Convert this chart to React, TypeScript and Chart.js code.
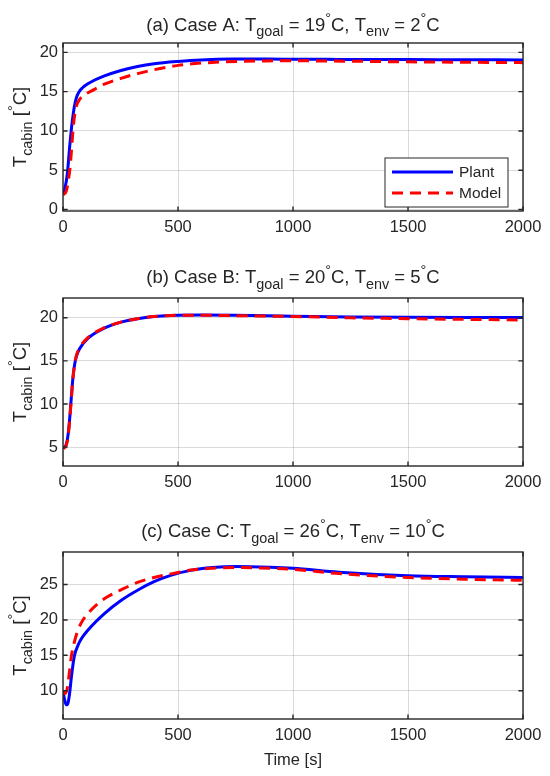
import React, { useEffect, useRef } from "react";
import { Chart, registerables } from "chart.js";

Chart.register(...registerables);

const FONT = '"Liberation Sans", Arial, Helvetica, sans-serif';
const TEXT_COLOR = "#262626";
const GRID_COLOR = "rgba(38,38,38,0.17)";

// ---------- data ----------
const X_TICKS = [0, 500, 1000, 1500, 2000];

// Case A
const A_T_PLANT = [0, 10, 19, 29, 39, 50, 58, 68, 85, 108, 180, 252, 324, 396, 500, 600, 735, 900, 1000, 1200, 1500, 1750, 2000];
const A_PLANT = [2.0, 2.9, 4.6, 8.0, 10.9, 13.2, 14.2, 14.9, 15.5, 16.0, 17.0, 17.7, 18.2, 18.55, 18.85, 19.05, 19.15, 19.15, 19.13, 19.11, 19.09, 19.07, 19.05];
const A_T_MODEL = [0, 14, 24, 32, 39, 46, 55, 72, 94, 137, 180, 252, 324, 396, 500, 562, 700, 880, 1000, 1250, 1500, 1750, 2000];
const A_MODEL = [1.85, 2.3, 3.8, 5.7, 8.4, 10.9, 12.8, 14.0, 14.6, 15.3, 15.95, 16.7, 17.3, 17.8, 18.35, 18.55, 18.8, 18.92, 18.93, 18.88, 18.8, 18.75, 18.7];
const A_Y_TICKS = [0, 5, 10, 15, 20];

// Case B
const B_T = [0, 14, 22, 29, 36, 43, 50, 58, 72, 108, 180, 252, 324, 396, 500, 600, 750, 1000, 1250, 1500, 1750, 2000];
const B_PLANT = [4.85, 5.3, 6.4, 8.3, 10.7, 13.0, 14.5, 15.5, 16.4, 17.6, 18.8, 19.5, 19.9, 20.15, 20.3, 20.32, 20.3, 20.18, 20.1, 20.06, 20.04, 20.03];
const B_MODEL = [4.8, 5.2, 6.2, 8.1, 10.5, 12.9, 14.5, 15.6, 16.5, 17.7, 18.85, 19.5, 19.9, 20.15, 20.3, 20.3, 20.25, 20.15, 20.0, 19.9, 19.82, 19.75];
const B_Y_TICKS = [5, 10, 15, 20];

// Case C
const C_T_PLANT = [0, 7, 14, 22, 29, 36, 43, 50, 65, 79, 108, 180, 252, 324, 396, 468, 555, 650, 750, 900, 1000, 1200, 1500, 1750, 2000];
const C_PLANT = [9.9, 8.7, 8.0, 8.3, 9.7, 11.8, 13.6, 15.0, 16.4, 17.3, 18.55, 20.9, 22.75, 24.2, 25.4, 26.3, 27.0, 27.4, 27.55, 27.45, 27.3, 26.75, 26.25, 26.1, 26.0];
const C_T_MODEL = [0, 7, 17, 29, 36, 48, 65, 86, 108, 151, 195, 252, 324, 396, 500, 555, 650, 750, 900, 1000, 1200, 1500, 1750, 2000];
const C_MODEL = [9.9, 9.6, 10.1, 12.9, 14.8, 16.7, 18.55, 19.95, 20.9, 22.3, 23.3, 24.25, 25.3, 26.0, 26.7, 27.05, 27.3, 27.4, 27.3, 27.15, 26.55, 26.0, 25.75, 25.6];
const C_Y_TICKS = [10, 15, 20, 25];

const SERIES_NAMES = ["Plant", "Model"];

type Seg = { t: string; k?: "sub" | "sup" };

const TITLE_A: Seg[] = [
  { t: "(a) Case A: T" }, { t: "goal", k: "sub" }, { t: " = 19" }, { t: "°", k: "sup" }, { t: "C, T" },
  { t: "env", k: "sub" }, { t: " = 2" }, { t: "°", k: "sup" }, { t: "C" },
];
const TITLE_B: Seg[] = [
  { t: "(b) Case B: T" }, { t: "goal", k: "sub" }, { t: " = 20" }, { t: "°", k: "sup" }, { t: "C, T" },
  { t: "env", k: "sub" }, { t: " = 5" }, { t: "°", k: "sup" }, { t: "C" },
];
const TITLE_C: Seg[] = [
  { t: "(c) Case C: T" }, { t: "goal", k: "sub" }, { t: " = 26" }, { t: "°", k: "sup" }, { t: "C, T" },
  { t: "env", k: "sub" }, { t: " = 10" }, { t: "°", k: "sup" }, { t: "C" },
];
const Y_LABEL: Seg[] = [{ t: "T" }, { t: "cabin", k: "sub" }, { t: " [" }, { t: "°", k: "sup" }, { t: "C]" }];
const X_LABEL = "Time [s]";

// ---------- rich text helpers ----------
const SUB_RATIO = 0.78;
function segSize(size: number, s: Seg) {
  return s.k ? size * SUB_RATIO : size;
}
function richWidth(ctx: CanvasRenderingContext2D, segs: Seg[], size: number) {
  let w = 0;
  for (const s of segs) {
    ctx.font = `${segSize(size, s)}px ${FONT}`;
    w += ctx.measureText(s.t).width;
  }
  return w;
}
function drawRich(ctx: CanvasRenderingContext2D, segs: Seg[], cx: number, baseline: number, size: number) {
  const w = richWidth(ctx, segs, size);
  let x = cx - w / 2;
  ctx.textAlign = "left";
  ctx.textBaseline = "alphabetic";
  ctx.fillStyle = TEXT_COLOR;
  for (const s of segs) {
    const fs = segSize(size, s);
    ctx.font = `${fs}px ${FONT}`;
    let dy = 0;
    if (s.k === "sub") dy = size * 0.3;
    if (s.k === "sup") dy = -size * 0.42;
    ctx.fillText(s.t, x, baseline + dy);
    x += ctx.measureText(s.t).width;
  }
}

type Panel = {
  title: Seg[];
  titleGap: number;
  yMin: number;
  yMax: number;
  yTicks: number[];
  plantT: number[];
  plant: number[];
  modelT: number[];
  model: number[];
  canvasTop: number;
  canvasH: number;
  padTop: number;
  xAxisH: number;
  legend: boolean;
  xLabel: boolean;
};

const PANELS: Panel[] = [
  {
    title: TITLE_A, titleGap: 12.5, yMin: -0.2, yMax: 21.2, yTicks: A_Y_TICKS,
    plantT: A_T_PLANT, plant: A_PLANT, modelT: A_T_MODEL, model: A_MODEL,
    canvasTop: 0, canvasH: 250, padTop: 43, xAxisH: 39, legend: true, xLabel: false,
  },
  {
    title: TITLE_B, titleGap: 15, yMin: 2.8, yMax: 22.3, yTicks: B_Y_TICKS,
    plantT: B_T, plant: B_PLANT, modelT: B_T, model: B_MODEL,
    canvasTop: 250, canvasH: 250, padTop: 48, xAxisH: 34, legend: false, xLabel: false,
  },
  {
    title: TITLE_C, titleGap: 15, yMin: 6.0, yMax: 29.6, yTicks: C_Y_TICKS,
    plantT: C_T_PLANT, plant: C_PLANT, modelT: C_T_MODEL, model: C_MODEL,
    canvasTop: 500, canvasH: 276, padTop: 52, xAxisH: 57, legend: false, xLabel: true,
  },
];

const BLUE = "#0000ff";
const RED = "#ff0000";
const LINE_W = 3;
const DASH = [11, 7];
const LABEL_SIZE = 18.5;
const TICK_SIZE = 16.5;
const LEGEND_SIZE = 15.5;

function PanelChart({ p }: { p: Panel }) {
  const ref = useRef<HTMLCanvasElement | null>(null);
  useEffect(() => {
    if (!ref.current) return;
    const framePlugin = {
      id: "matlabFrame",
      afterDraw(chart: any) {
        const ctx: CanvasRenderingContext2D = chart.ctx;
        const { left, right, top, bottom } = chart.chartArea;
        const xs = chart.scales.x;
        const ys = chart.scales.y;
        ctx.save();
        // box
        ctx.strokeStyle = TEXT_COLOR;
        ctx.lineWidth = 1.4;
        ctx.strokeRect(left, top, right - left, bottom - top);
        // inward ticks
        const tl = 4.6;
        ctx.beginPath();
        for (const v of X_TICKS) {
          const px = xs.getPixelForValue(v);
          ctx.moveTo(px, bottom);
          ctx.lineTo(px, bottom - tl);
          ctx.moveTo(px, top);
          ctx.lineTo(px, top + tl);
        }
        for (const v of p.yTicks) {
          const py = ys.getPixelForValue(v);
          ctx.moveTo(left, py);
          ctx.lineTo(left + tl, py);
          ctx.moveTo(right, py);
          ctx.lineTo(right - tl, py);
        }
        ctx.stroke();
        // title
        const cx = (left + right) / 2;
        drawRich(ctx, p.title, cx, top - p.titleGap, LABEL_SIZE);
        // y label
        ctx.save();
        ctx.translate(26, (top + bottom) / 2);
        ctx.rotate(-Math.PI / 2);
        drawRich(ctx, Y_LABEL, 0, 0, LABEL_SIZE);
        ctx.restore();
        // x label
        if (p.xLabel) {
          ctx.font = `${TICK_SIZE}px ${FONT}`;
          ctx.fillStyle = TEXT_COLOR;
          ctx.textAlign = "center";
          ctx.textBaseline = "alphabetic";
          ctx.fillText(X_LABEL, cx, bottom + 46);
        }
        // legend
        if (p.legend) {
          const lx = 385, ly = 158, lw = 123, lh = 49;
          ctx.fillStyle = "#ffffff";
          ctx.fillRect(lx, ly, lw, lh);
          ctx.strokeStyle = TEXT_COLOR;
          ctx.lineWidth = 1;
          ctx.strokeRect(lx, ly, lw, lh);
          const rows = [
            { name: SERIES_NAMES[0], color: BLUE, dash: [] as number[], y: ly + 14 },
            { name: SERIES_NAMES[1], color: RED, dash: DASH, y: ly + 35 },
          ];
          for (const r of rows) {
            ctx.beginPath();
            ctx.strokeStyle = r.color;
            ctx.lineWidth = LINE_W;
            ctx.setLineDash(r.dash);
            ctx.moveTo(lx + 7, r.y);
            ctx.lineTo(lx + 68, r.y);
            ctx.stroke();
            ctx.setLineDash([]);
            ctx.font = `${LEGEND_SIZE}px ${FONT}`;
            ctx.fillStyle = TEXT_COLOR;
            ctx.textAlign = "left";
            ctx.textBaseline = "middle";
            ctx.fillText(r.name, lx + 74, r.y + 1);
          }
        }
        ctx.restore();
      },
    };

    const chart = new Chart(ref.current, {
      type: "line",
      data: {
        datasets: [
          {
            label: SERIES_NAMES[1],
            data: p.modelT.map((t, i) => ({ x: t, y: p.model[i] })),
            borderColor: RED,
            borderWidth: LINE_W,
            borderDash: DASH,
            pointRadius: 0,
            fill: false,
            cubicInterpolationMode: "monotone",
          },
          {
            label: SERIES_NAMES[0],
            data: p.plantT.map((t, i) => ({ x: t, y: p.plant[i] })),
            borderColor: BLUE,
            borderWidth: LINE_W,
            pointRadius: 0,
            fill: false,
            cubicInterpolationMode: "monotone",
          },
        ],
      },
      options: {
        responsive: false,
        animation: false,
        events: [],
        layout: { padding: { top: p.padTop, left: 0, right: 27, bottom: 0 } },
        scales: {
          x: {
            type: "linear",
            min: 0,
            max: 2000,
            afterBuildTicks: (s: any) => {
              s.ticks = X_TICKS.map((v) => ({ value: v }));
            },
            afterFit: (s: any) => {
              s.height = p.xAxisH;
            },
            grid: { color: GRID_COLOR, lineWidth: 1, drawTicks: false },
            border: { display: false },
            ticks: {
              color: TEXT_COLOR,
              font: { family: FONT, size: TICK_SIZE },
              padding: 7,
              maxRotation: 0,
              autoSkip: false,
              callback: (v: any) => String(v),
            },
          },
          y: {
            type: "linear",
            min: p.yMin,
            max: p.yMax,
            afterBuildTicks: (s: any) => {
              s.ticks = p.yTicks.map((v) => ({ value: v }));
            },
            afterFit: (s: any) => {
              s.width = 63;
            },
            grid: { color: GRID_COLOR, lineWidth: 1, drawTicks: false },
            border: { display: false },
            ticks: {
              color: TEXT_COLOR,
              font: { family: FONT, size: TICK_SIZE },
              padding: 5,
              autoSkip: false,
              callback: (v: any) => String(v),
            },
          },
        },
        plugins: {
          legend: { display: false },
          tooltip: { enabled: false },
          title: { display: false },
        },
      } as any,
      plugins: [framePlugin],
    });
    return () => chart.destroy();
  }, [p]);

  return (
    <canvas
      ref={ref}
      width={550}
      height={p.canvasH}
      style={{ position: "absolute", left: 0, top: p.canvasTop, width: 550, height: p.canvasH, display: "block" }}
    />
  );
}

export default function App() {
  return (
    <div style={{ position: "absolute", left: 0, top: 0, width: 550, height: 776, background: "#ffffff", overflow: "hidden" }}>
      {PANELS.map((p, i) => (
        <PanelChart key={i} p={p} />
      ))}
    </div>
  );
}
